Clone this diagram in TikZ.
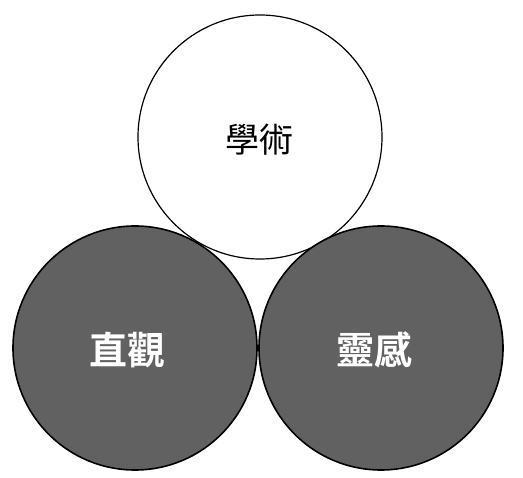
\documentclass[tikz,border=0pt]{standalone}
\usepackage{fontspec}
\newfontfamily\cjk{Noto Sans CJK TC}
\newfontfamily\cjkb{Noto Sans CJK TC Bold}
\begin{document}
\begin{tikzpicture}[x=1pt,y=-1pt,
  circ/.style={draw=black,line width=1.6pt},
  dark/.style={circ,fill=black!62},
  lbl/.style={font=\cjk\fontsize{34}{34}\selectfont,text=black},
  dlbl/.style={font=\cjkb\fontsize{38}{38}\selectfont,text=white,inner sep=1pt}]
\useasboundingbox (0,0) rectangle (523,478);
\fill[white] (0,0) rectangle (523,478);
\draw[circ,line width=1.2pt,fill=white] (260,137) circle (122);
\draw[dark] (135,348) circle (122);
\draw[dark] (381,348) circle (122);
\node[lbl] (xs) at (259,140) {學術};
\node[dlbl] (zg) at (127,350) {直觀};
\node[dlbl] (lg) at (374,350) {靈感};
\end{tikzpicture}
\end{document}
